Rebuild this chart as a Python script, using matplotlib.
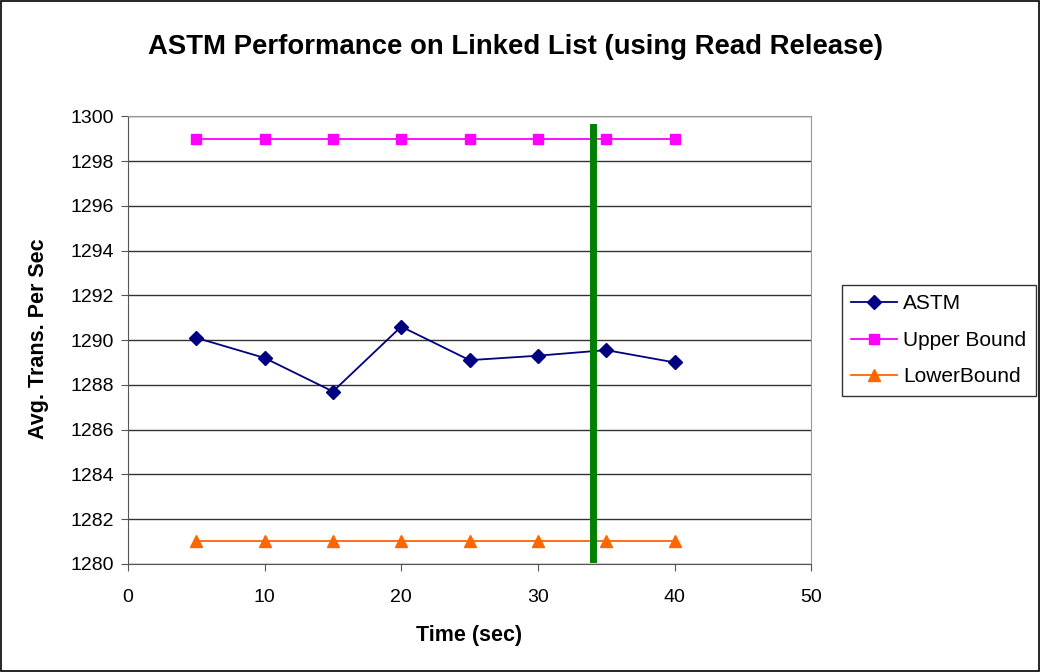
import matplotlib
matplotlib.use('Agg')
import matplotlib.pyplot as plt
from matplotlib.patches import Rectangle

plt.rcParams['font.family'] = ['Liberation Sans', 'DejaVu Sans']

# data
time_sec = [5, 10, 15, 20, 25, 30, 35, 40]
astm = [1290.1, 1289.2, 1287.7, 1290.6, 1289.1, 1289.3, 1289.55, 1289.0]
upper = [1299, 1299, 1299, 1299, 1299, 1299, 1299, 1299]
lower = [1281, 1281, 1281, 1281, 1281, 1281, 1281, 1281]
marker_x = 34
marker_y = [1280.2, 1299.5]
yticks = list(range(1280, 1301, 2))
xticks = [0, 10, 20, 30, 40, 50]

fig = plt.figure(figsize=(10.4, 6.72), dpi=100)
ax = fig.add_axes([0.123, 0.161, 0.657, 0.666])

# outer border of the chart
fig.patches.append(Rectangle((0.001, 0.001), 0.998, 0.997, transform=fig.transFigure,
                             fill=False, edgecolor='black', linewidth=1.2))

ax.set_xlim(0, 50)
ax.set_ylim(1280, 1300)
ax.set_xticks(xticks)
ax.set_yticks(yticks)
ax.yaxis.grid(True, color='#333333', linewidth=1.0)
ax.set_axisbelow(True)
for s in ['top', 'right']:
    ax.spines[s].set_color('#999999')
for s in ['left', 'bottom']:
    ax.spines[s].set_color('#555555')
ax.tick_params(direction='out', length=5, labelsize=14, colors='#555555', labelcolor='black')
ax.tick_params(axis='x', pad=13)
ax.tick_params(axis='y', pad=5)

ax.plot(time_sec, astm, color='#000080', marker='D', markersize=7, linewidth=1.3, label='ASTM')
ax.plot(time_sec, upper, color='#ff00ff', marker='s', markersize=7, linewidth=1.3, label='Upper Bound')
ax.plot(time_sec, lower, color='#ff6600', marker='^', markersize=8, linewidth=1.3, label='LowerBound')
ax.plot([marker_x, marker_x], marker_y, color='#008000', linewidth=5)

# title and axis labels placed in figure coords
fig.text(0.496, 0.930, 'ASTM Performance on Linked List (using Read Release)', fontsize=19.8,
         fontweight='bold', ha='center', va='center')
fig.text(0.451, 0.055, 'Time (sec)', fontsize=15.5, fontweight='bold', ha='center', va='center')
fig.text(0.037, 0.496, 'Avg. Trans. Per Sec', fontsize=15.5, fontweight='bold', ha='center',
         va='center', rotation=90)

leg = ax.legend(loc='upper left', bbox_to_anchor=(0.8096, 0.5759), bbox_transform=fig.transFigure,
                borderaxespad=0, fontsize=15, frameon=True, fancybox=False, edgecolor='black',
                handlelength=2.2, borderpad=0.45, labelspacing=0.84, handletextpad=0.3)
leg.get_frame().set_linewidth(1.0)

fig.savefig('out.png', dpi=100)
